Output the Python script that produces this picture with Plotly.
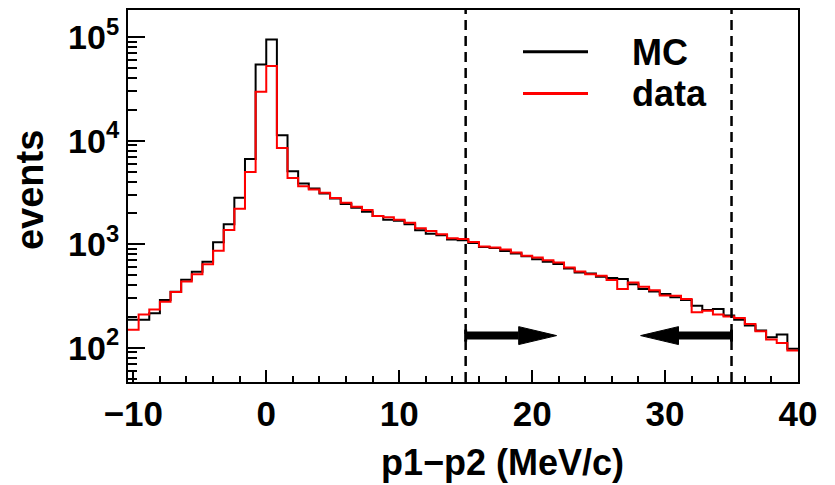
import numpy as np
import plotly.graph_objects as go

# Histogram binning: 0.8 MeV/c bins covering [-10.4, 40]
bin_lo = -10.4
bin_w = 0.8
n_bins = 63

# Bin contents (events per bin), left to right
mc_counts = [
    186, 186, 215, 290, 348, 454, 542, 676, 1046, 1557, 2805, 6650, 54600,
    94800, 11300, 5070, 3860, 3450, 3090, 2770, 2450, 2250, 2055, 1870, 1725,
    1690, 1557, 1364, 1264, 1221, 1110, 1092, 1029, 942, 921, 861, 813, 765,
    718, 676, 643, 583, 534, 522, 485, 471, 461, 410, 369, 350, 330, 307, 289,
    255, 232, 237, 205, 186, 164, 147, 126, 134, 98,
]
data_counts = [
    149, 209, 234, 278, 345, 437, 514, 641, 863, 1373, 2197, 5000, 29800,
    52600, 8490, 4370, 3640, 3380, 3135, 2800, 2512, 2300, 2136, 1871, 1820,
    1725, 1614, 1426, 1343, 1248, 1142, 1125, 1050, 950, 930, 887, 830, 772,
    744, 702, 666, 596, 546, 514, 496, 451, 369, 428, 388, 360, 320, 318, 296,
    220, 228, 209, 200, 194, 170, 144, 120, 111, 94,
]

# Selection window on p1-p2 (MeV/c) and the level of the window arrows
cut_lo, cut_hi = 15.0, 35.0
arrow_level = 131
arrow_head_len = 2.85

x_tick_vals = [-10, 0, 10, 20, 30, 40]
y_tick_vals = [1e2, 1e3, 1e4, 1e5]
y_tick_text = ["10<sup>2</sup>", "10<sup>3</sup>", "10<sup>4</sup>", "10<sup>5</sup>"]

FONT = "Liberation Sans"
edges = bin_lo + bin_w * np.arange(n_bins + 1)


def step_xy(counts):
    return list(edges), list(counts) + [counts[-1]]


fig = go.Figure()

for counts, color, name in [(mc_counts, "black", "MC"), (data_counts, "#ff0000", "data")]:
    sx, sy = step_xy(counts)
    fig.add_trace(go.Scatter(x=sx, y=sy, mode="lines", line=dict(color=color, width=2, shape="hv"),
                             name=name, showlegend=False, hoverinfo="skip"))

# Window arrows: thick shaft + filled triangular head, short bar at the tail
half_head = 10 ** (9 / 104)
half_bar = 10 ** (6 / 104)
for tail, direction in [(cut_lo, 1), (cut_hi, -1)]:
    tip = tail + direction * (arrow_head_len * 2.4)
    base = tip - direction * arrow_head_len
    fig.add_trace(go.Scatter(x=[tail, base], y=[arrow_level, arrow_level], mode="lines",
                             line=dict(color="black", width=8), showlegend=False, hoverinfo="skip"))
    fig.add_trace(go.Scatter(x=[base, base, tip, base],
                             y=[arrow_level * half_head, arrow_level / half_head, arrow_level, arrow_level * half_head],
                             mode="lines", fill="toself", fillcolor="black",
                             line=dict(color="black", width=1), showlegend=False, hoverinfo="skip"))
    fig.add_trace(go.Scatter(x=[tail, tail], y=[arrow_level / half_bar, arrow_level * half_bar], mode="lines",
                             line=dict(color="black", width=3), showlegend=False, hoverinfo="skip"))

# Dashed cut lines
for xc in (cut_lo, cut_hi):
    fig.add_shape(type="line", xref="x", yref="paper", x0=xc, x1=xc, y0=0, y1=1,
                  line=dict(color="black", width=2.5, dash="10px,6px"))

# Legend drawn as line samples + labels
W, H = 670.0, 374.0
L, T = 128.0, 8.0


def px(xp):
    return (xp - L) / W


def py(yp):
    return (T + H - yp) / H


for ypix, color, label, ylab in [(50, "black", "MC", 51), (92, "#ff0000", "data", 92)]:
    fig.add_shape(type="line", xref="paper", yref="paper", x0=px(523), x1=px(588), y0=py(ypix), y1=py(ypix),
                  line=dict(color=color, width=3))
    fig.add_annotation(xref="paper", yref="paper", x=px(630), y=py(ylab), text=label, showarrow=False,
                       xanchor="left", yanchor="middle",
                       font=dict(family=FONT, size=36, color="black", weight="bold"))

# Axis titles
fig.add_annotation(xref="paper", yref="paper", x=px(503), y=py(463), text="p1\u2212p2 (MeV/c)", showarrow=False,
                   xanchor="center", yanchor="middle", font=dict(family=FONT, size=36, color="black", weight="bold"))
fig.add_annotation(xref="paper", yref="paper", x=px(30), y=py(189), text="events", showarrow=False, textangle=-90,
                   xanchor="center", yanchor="middle", font=dict(family=FONT, size=38, color="black", weight="bold"))

minor_y = [m * 10 ** d for d in range(1, 6) for m in range(2, 10)]

fig.update_xaxes(range=[bin_lo, 40], tickvals=x_tick_vals, ticks="inside", ticklen=12, tickwidth=2,
                 tickcolor="black", showline=True, linecolor="black", linewidth=2, mirror=True,
                 showgrid=False, zeroline=False,
                 tickfont=dict(family=FONT, size=35, color="black", weight="bold"),
                 minor=dict(dtick=2, tick0=0, ticks="inside", ticklen=6, tickwidth=1.5, tickcolor="black",
                            showgrid=False))
fig.update_yaxes(type="log", range=[1.669, 5.263], tickvals=y_tick_vals, ticktext=y_tick_text,
                 ticks="inside", ticklen=17, tickwidth=2, tickcolor="black",
                 showline=True, linecolor="black", linewidth=2, mirror=True, showgrid=False,
                 tickfont=dict(family=FONT, size=34, color="black", weight="bold"),
                 minor=dict(tickvals=minor_y, ticks="inside", ticklen=9, tickwidth=1.5, tickcolor="black",
                            showgrid=False))

fig.update_layout(width=835, height=485, autosize=False,
                  margin=dict(l=128, r=37, t=8, b=103),
                  paper_bgcolor="white", plot_bgcolor="white", showlegend=False)

fig.write_html("out.html")
